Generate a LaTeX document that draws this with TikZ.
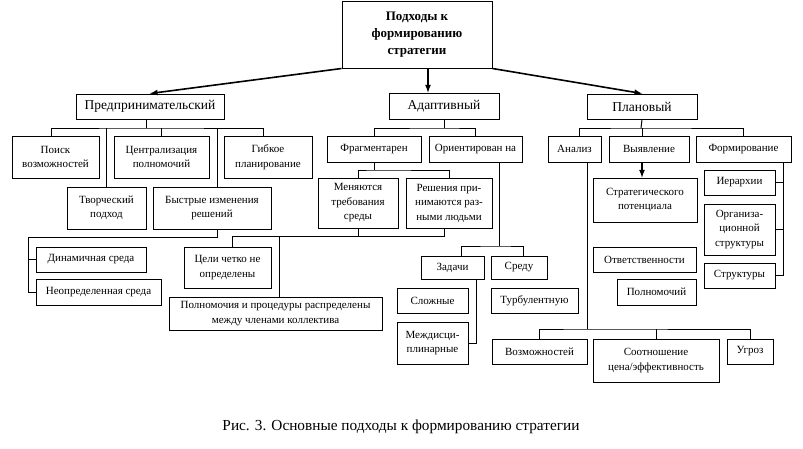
\documentclass[tikz,border=0pt]{standalone}
\usepackage{fontspec}
\setmainfont{Liberation Serif}
\begin{document}
\begin{tikzpicture}[x=1pt,y=-1pt,line width=1pt,
	box/.style={draw,inner sep=0pt,align=center,font=\fontsize{11}{14.5}\selectfont},
	big/.style={box,font=\fontsize{13.5}{16}\selectfont},
	arr/.style={-latex,line width=1.6pt}]
		\useasboundingbox (0,0) rectangle (803,448);
		\node[draw,inner sep=0pt,align=center,minimum width=150,minimum height=67,font=\bfseries\fontsize{13}{17}\selectfont] (top) at (417,34.5) {Подходы к\\формированию\\стратегии};
		\node[big,minimum width=148,minimum height=25] (pr) at (150,106.5) {Предпринимательский};
		\node[big,minimum width=110,minimum height=26] (ad) at (444,106) {Адаптивный};
		\node[big,minimum width=110,minimum height=25] (pl) at (642,106.5) {Плановый};
		\draw [arr] (top.south west) -- (pr.north);
		\draw [arr] ([xshift=11]top.south) -- ([xshift=-16]ad.north);
		\draw [arr] (top.south east) -- (pl.north);
		\node[box,minimum width=87,minimum height=42] (poisk) at (55.5,157) {Поиск\\возможностей};
		\node[box,minimum width=95,minimum height=42] (cent) at (161.5,157) {Централизация\\полномочий};
		\node[box,minimum width=88,minimum height=42] (gib) at (268,157) {Гибкое\\планирование};
		\node[box,minimum width=79,minimum height=42] (tvor) at (106.5,208) {Творческий\\подход};
		\node[box,minimum width=118,minimum height=42] (bystr) at (212,208) {Быстрые изменения\\решений};
		\node[box,minimum width=110,minimum height=25] (din) at (91,259.5) {Динамичная среда};
		\node[box,minimum width=125,minimum height=26] (neopr) at (98.5,292) {Неопределенная среда};
		\node[box,minimum width=87,minimum height=41] (celi) at (227.5,267.5) {Цели четко не\\определены};
		\node[box,minimum width=213,minimum height=33] (poln) at (275.5,313.5) {Полномочия и процедуры распределены\\между членами коллектива};
		\coordinate (b1) at (146,128);
		\draw ([xshift=-4]pr.south) -- (b1);
		\draw ([xshift=-4.5]poisk.north) |- (b1) -| ([xshift=-5]gib.north);
		\draw (tvor.north) -- (tvor.north |- b1);
		\draw (cent.north) -- (cent.north |- b1);
		\draw ([xshift=5]bystr.north) -- ([xshift=5]bystr.north |- b1);
		\coordinate (j1) at (28,237);
		\draw ([xshift=5]bystr.south) |- (j1) |- (neopr.west);
		\draw (j1) |- (din.west);
		\node[box,minimum width=94,minimum height=26] (frag) at (374,149) {Фрагментарен};
		\node[box,minimum width=93,minimum height=26] (orient) at (475.5,149) {Ориентирован на};
		\node[box,minimum width=80,minimum height=50] (men) at (358,203) {Меняются\\требования\\среды};
		\node[box,minimum width=86,minimum height=50] (resh) at (449,203) {Решения при-\\нимаются раз-\\ными людьми};
		\node[box,minimum width=63,minimum height=23] (zad) at (452.5,267.5) {Задачи};
		\node[box,minimum width=56,minimum height=23] (sred) at (519,267.5) {Среду};
		\node[box,minimum width=71,minimum height=25] (slozh) at (432.5,300.5) {Сложные};
		\node[box,minimum width=71,minimum height=42] (mej) at (432.5,343) {Междисци-\\плинарные};
		\node[box,minimum width=87,minimum height=25] (turb) at (534.5,300.5) {Турбулентную};
		\coordinate (b2) at (444,128);
		\draw (ad.south) -- (b2);
		\draw (frag.north) |- (b2) -| (orient.north);
		\coordinate (b4) at (374,170);
		\draw (frag.south) -- (b4);
		\draw (men.north) |- (b4) -| (resh.north);
		\coordinate (j2) at (232,236);
		\coordinate (j3) at (279,236);
		\draw ([xshift=-5]resh.south) |- (j2) -- (j2 |- celi.north);
		\draw (men.south) -- (men.south |- j2);
		\draw (j3) -- (j3 |- poln.north);
		\coordinate (j4) at (499,246);
		\draw (orient.south -| j4) -- (j4);
		\draw ([xshift=8.5]zad.north) |- (j4) -| ([xshift=4]sred.north);
		\draw ([xshift=24]zad.south) |- (mej.east);
		\node[box,minimum width=53,minimum height=26] (an) at (574.5,149) {Анализ};
		\node[box,minimum width=80,minimum height=26] (vyy) at (649,149) {Выявление};
		\node[box,minimum width=95,minimum height=26] (form) at (743.5,149) {Формирование};
		\node[box,minimum width=104,minimum height=44] (strat) at (645,200) {Стратегического\\потенциала};
		\node[box,minimum width=103,minimum height=25] (otv) at (644.5,259.5) {Ответственности};
		\node[box,minimum width=79,minimum height=26] (polnom) at (656.5,292) {Полномочий};
		\node[box,minimum width=71,minimum height=25] (ier) at (739.5,182.5) {Иерархии};
		\node[box,minimum width=71,minimum height=51] (org) at (739.5,229.5) {Организа-\\ционной\\структуры};
		\node[box,minimum width=71,minimum height=25] (str) at (739.5,275.5) {Структуры};
		\node[box,minimum width=95,minimum height=25] (voz) at (539.5,351.5) {Возможностей};
		\node[box,minimum width=126,minimum height=43] (sootn) at (656,360.5) {Соотношение\\цена/эффективность};
		\node[box,minimum width=46,minimum height=25] (ugr) at (750,351.5) {Угроз};
		\coordinate (b3) at (641,128);
		\draw (pl.south) -- (b3);
		\draw ([xshift=4.5]an.north) |- (b3) -| (form.north);
		\draw ([xshift=-7]vyy.north) -- ([xshift=-7]vyy.north |- b3);
		\draw [arr] ([xshift=-7]vyy.south) -- ([xshift=-7]vyy.south |- strat.north);
		\coordinate (j5) at (587,329);
		\draw (an.south -| j5) -- (j5);
		\draw (voz.north) |- (j5) -| (ugr.north);
		\draw (sootn.north) -- (sootn.north |- j5);
		\draw ([xshift=40]form.south) |- (ier.east);
		\draw ([xshift=40]form.south) |- (org.east);
		\draw ([xshift=40]form.south) |- (str.east);
		\node[font=\fontsize{15.3}{18}\selectfont] (cap) at (401,427) {Рис. 3. Основные подходы к формированию стратегии};
\end{tikzpicture}
\end{document}
